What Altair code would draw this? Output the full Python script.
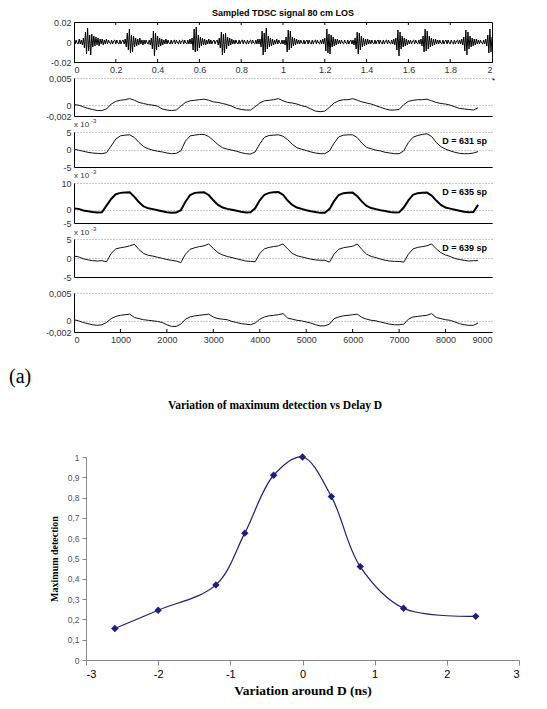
import altair as alt
import pandas as pd

# ---------------- data ----------------
# Sampled TDSC signal 80 cm LOS, units of 1e-3, one value every 0.005 from 0 to 2
tdsc_step = 0.005
tdsc_milli = [
    1, -2, 2, -1, -2, 3, -2, 2, -3, 4, -6, 10, -12, 14, -9, 7, -13, 8, -5, 6,
    -4, 5, -3, 4, -4, 3, -2, 3, -3, 2, -2, 3, -2, 2, -1, -2, 2, -2, 1, 2,
    -2, 2, -1, -2, 2, -2, 1, 2, -2, 3, -5, 9, -8, 13, -11, 7, -10, 6, -5, 4,
    -4, 3, -3, 4, -2, 2, -3, 2, -2, 2, -1, -2, 2, -3, 4, -7, 11, -14, 9, -8,
    6, -5, 4, -4, 3, -3, 2, -2, 3, -2, 2, -1, -2, 2, -2, 1, 2, -2, 2, -1,
    -2, 2, -2, 1, 2, -2, 2, -1, -2, 2, -2, 3, -2, 4, -8, 13, -10, 15, -9, 7,
    -6, 5, -4, 4, -3, 3, -3, 2, -2, 3, -2, 2, -2, 1, 2, -2, 1, 2, -3, 4,
    -6, 10, -13, 8, -11, 9, -7, 5, -4, 4, -3, 3, -2, 2, -2, 2, -1, -2, 2, -2,
    1, 2, -2, 2, -1, -2, 2, -2, 1, 2, -2, 2, -1, -2, 2, -2, 3, -2, 3, -5,
    11, -13, 9, -10, 14, -7, 6, -5, 4, -4, 3, -3, 2, -2, 3, -2, 2, -1, -2, 2,
    -2, 2, -3, 5, -10, 12, -8, 11, -6, 5, -4, 4, -3, 3, -2, 2, -2, 2, -1, -2,
    2, -2, 1, 2, -2, 2, -1, -2, 2, -2, 1, 2, -2, 2, -1, -2, 2, -2, 3, -2,
    4, -9, 13, -11, 8, -12, 7, -5, 5, -4, 3, -3, 3, -2, 2, -2, 2, -1, -2, 2,
    -1, -2, 2, -2, 1, 2, -2, 2, -3, 4, -7, 10, -12, 9, -8, 6, -5, 4, -4, 3,
    -3, 3, -2, 2, -2, 2, -1, -2, 2, -2, 1, 2, -2, 2, -1, -2, 2, -2, 1, 2,
    -2, 2, -1, -2, 2, -2, 3, -3, 4, -8, 12, -14, 10, -7, 6, -5, 4, -4, 3, -3,
    2, -2, 2, -2, 1, 2, -2, 2, -1, -2, 2, -2, 3, -4, 6, -10, 13, -9, 11, -7,
    6, -5, 4, -4, 3, -3, 3, -2, 2, -2, 2, -1, -2, 2, -2, 1, 2, -2, 2, -1,
    -2, 2, -1, -2, 2, -2, 1, 2, -2, 2, -2, 3, -3, 5, -9, 12, -13, 10, -7, 6,
    -5, 4, -4, 3, -3, 3, -2, 2, -2, 2, -1, -2, 2, -2, 3, -4, 7, -11, 13, -10,
    5,
]
tdsc_xticks = [0, 0.2, 0.4, 0.6, 0.8, 1, 1.2, 1.4, 1.6, 1.8, 2]

# correlation panels: one value every 100 samples, 0 .. 8700
sample_idx = list(range(0, 8800, 100))
corr_top_e4 = [  # units of 1e-4
    1, 0, -3, -6, -8, -10, -10, -7, 2, 7,
    9, 10, 12, 9, 5, 3, 1, 0, -2, -7,
    -9, -10, -9, -2, 5, 8, 9, 10, 11, 9,
    6, 5, 3, 1, -2, -6, -8, -9, -9, -3,
    4, 8, 9, 10, 12, 8, 5, 4, 2, -1,
    -3, -7, -11, -12, -11, -4, 4, 8, 10, 10,
    12, 9, 6, 4, 2, -1, -4, -7, -9, -9,
    -8, 1, 7, 9, 10, 10, 11, 8, 5, 3,
    2, 0, -3, -6, -7, -8, -9, -5,
]
d631_e3 = [
    0.1, -0.2, -0.5, -0.8, -1.0, -1.1, -1.2, -0.9, 1.0, 3.0,
    3.9, 4.1, 4.2, 3.4, 2.0, 0.8, 0.2, -0.2, -0.5, -0.7,
    -1.0, -1.2, -1.1, -0.4, 2.4, 3.9, 4.1, 4.3, 4.3, 3.7,
    2.6, 1.4, 0.5, 0.1, -0.2, -0.5, -0.9, -1.2, -1.3, -0.7,
    1.6, 3.5, 4.0, 4.1, 4.2, 3.8, 2.8, 1.5, 0.5, 0.1,
    -0.3, -0.7, -1.0, -1.2, -1.2, -0.4, 1.8, 3.6, 4.1, 4.2,
    4.2, 3.4, 1.8, 0.6, 0.2, -0.2, -0.4, -0.8, -1.0, -1.2,
    -1.2, -0.4, 2.0, 3.5, 4.0, 4.3, 4.5, 3.7, 2.0, 0.8,
    0.1, -0.4, -0.8, -1.1, -1.2, -1.2, -1.0, -0.6,
]
d635_e3 = [
    0.4, 0.3, -0.3, -0.6, -0.9, -1.1, -1.0, 1.5, 4.0, 5.8,
    6.3, 6.4, 6.5, 4.8, 2.8, 1.2, 0.5, 0.2, -0.2, -0.6,
    -1.0, -1.2, -1.1, -0.2, 3.0, 5.5, 6.3, 6.4, 6.5, 5.5,
    3.5, 1.8, 0.8, 0.3, 0.0, -0.4, -0.8, -1.1, -1.0, 0.5,
    3.5, 5.6, 6.3, 6.5, 6.6, 5.6, 3.4, 1.8, 0.8, 0.3,
    -0.2, -0.6, -0.9, -1.2, -1.2, 0.2, 3.2, 5.5, 6.2, 6.3,
    6.4, 5.0, 3.0, 1.4, 0.6, 0.2, -0.2, -0.5, -0.9, -1.1,
    -1.0, 0.8, 3.5, 5.6, 6.2, 6.3, 6.4, 5.3, 3.4, 1.8,
    0.8, 0.4, 0.0, -0.4, -0.8, -1.0, -0.9, 1.8,
]
d639_e3 = [
    0.5, 0.3, -0.2, -0.5, -0.7, -0.8, -0.7, -1.0, 1.2, 2.4,
    2.7, 2.9, 3.2, 3.6, 2.2, 1.2, 0.7, 0.5, 0.2, -0.1,
    -0.4, -0.6, -0.8, -1.2, 1.0, 2.3, 2.7, 3.0, 3.2, 3.7,
    2.5, 1.4, 0.8, 0.4, 0.1, -0.2, -0.5, -0.8, -0.9, -1.0,
    1.2, 2.4, 2.8, 3.0, 3.2, 3.7, 2.4, 1.2, 0.6, 0.3,
    0.0, -0.3, -0.5, -0.6, -0.6, -1.1, 1.0, 2.3, 2.7, 2.9,
    3.1, 3.7, 2.2, 1.0, 0.4, 0.1, -0.3, -0.6, -0.8, -0.9,
    -0.9, -1.1, 1.0, 2.4, 2.8, 3.0, 3.2, 3.7, 2.4, 1.4,
    0.8, 0.4, -0.1, -0.4, -0.6, -0.8, -0.7, -0.7,
]
corr_bot_e4 = [  # units of 1e-4
    2, 0, -3, -5, -7, -8, -7, -3, 4, 8,
    10, 11, 12, 6, 4, 2, 1, 0, -1, -3,
    -7, -10, -10, -6, 3, 7, 9, 10, 11, 12,
    7, 4, 3, 2, -1, -3, -5, -6, -7, -4,
    3, 7, 9, 10, 11, 13, 5, 3, 1, 0,
    -2, -4, -7, -9, -9, -6, 4, 7, 9, 10,
    11, 12, 6, 3, 1, 0, -2, -4, -6, -7,
    -7, -6, 3, 7, 8, 9, 10, 13, 6, 4,
    2, 1, -2, -5, -7, -8, -8, -4,
]
sample_xticks = [0, 1000, 2000, 3000, 4000, 5000, 6000, 7000, 8000, 9000]

# lower chart
delay_ns = [-2.6, -2.0, -1.2, -0.8, -0.4, 0.0, 0.4, 0.8, 1.4, 2.4]
max_detection = [0.155, 0.245, 0.37, 0.625, 0.91, 1.0, 0.805, 0.46, 0.255, 0.215]
delay_ticks = [-3, -2, -1, 0, 1, 2, 3]
detect_ticks = [0, 0.1, 0.2, 0.3, 0.4, 0.5, 0.6, 0.7, 0.8, 0.9, 1]

# ---------------- styling ----------------
FONT = "Liberation Sans"
SERIF = "Liberation Serif"
W = 418
NAVY = "#1f1f78"
H1, H2, H3, H4, H5, H6 = 40, 38, 35, 40, 38, 39
SP = 16
BOT_H, BOT_GAP = 203, 109
COMMA = "replace(toString(datum.value), '.', ',')"
PLAIN = "toString(datum.value)"


def yaxis(values, expr=PLAIN, grid=True):
    return alt.Axis(values=values, labelExpr=expr, title=None, ticks=False, grid=grid,
                    gridDash=[1, 2], gridColor="#7a7a7a", gridWidth=0.8,
                    domain=True, domainColor="black", domainWidth=1,
                    labelFont=FONT, labelFontSize=9, labelColor="#333", labelPadding=3)


xhidden = alt.Axis(labels=False, ticks=False, grid=False, title=None, domain=True,
                   domainColor="black", domainWidth=1)


def note(text, x, y, size=9, bold=False, align="left", font=FONT, color="black"):
    return alt.Chart(pd.DataFrame({"t": [text]})).mark_text(
        align=align, baseline="middle", fontSize=size,
        fontWeight="bold" if bold else "normal", font=font, color=color
    ).encode(text="t:N", x=alt.value(x), y=alt.value(y))


# ---- panel 1 ----
df1 = pd.DataFrame({"t": [i * tdsc_step for i in range(len(tdsc_milli))],
                    "v": [v / 1000 for v in tdsc_milli]})
x1 = alt.X("t:Q", scale=alt.Scale(domain=[0, 2], nice=False),
           axis=alt.Axis(values=tdsc_xticks, labelExpr=PLAIN, ticks=False, grid=False, title=None,
                         domain=True, domainColor="black", labelFont=FONT, labelFontSize=9,
                         labelColor="#333", labelPadding=3))
p1_line = alt.Chart(df1).mark_line(color="black", strokeWidth=1, clip=True).encode(
    x=x1,
    y=alt.Y("v:Q", scale=alt.Scale(domain=[-0.02, 0.02], nice=False),
            axis=yaxis([-0.02, 0, 0.02], grid=False)),
)
tick_df = pd.DataFrame({"t": tdsc_xticks[1:-1]})
p1_ttop = alt.Chart(tick_df).mark_rule(color="black").encode(x=x1, y=alt.value(0), y2=alt.value(3))
p1_tbot = alt.Chart(tick_df).mark_rule(color="black").encode(x=x1, y=alt.value(H1 - 3), y2=alt.value(H1))
p1 = alt.layer(p1_line, p1_ttop, p1_tbot).properties(
    width=W, height=H1,
    view=alt.ViewBackground(stroke="black", strokeWidth=1),
    title=alt.TitleParams("Sampled TDSC signal 80 cm LOS", font=FONT, fontSize=9,
                          fontWeight="bold", offset=0, color="black"),
)


def corr_panel(values, scale_div, ydom, yvals, expr, height, width_line=1, color="#111",
               xaxis=xhidden, extra=()):
    df = pd.DataFrame({"s": sample_idx, "v": [v / scale_div for v in values]})
    xenc = alt.X("s:Q", scale=alt.Scale(domain=[0, 9000], nice=False), axis=xaxis)
    line = alt.Chart(df).mark_line(color=color, strokeWidth=width_line).encode(
        x=xenc,
        y=alt.Y("v:Q", scale=alt.Scale(domain=ydom, nice=False), axis=yaxis(yvals, expr)),
    )
    return alt.layer(line, *extra).properties(width=W, height=height)


p2 = corr_panel(corr_top_e4, 10000, [-0.002, 0.005], [-0.002, 0, 0.005], COMMA, H2,
                extra=[note("*", W, 3, size=8)])

p3 = corr_panel(d631_e3, 1, [-5, 5], [-5, 0, 5], PLAIN, H3,
                extra=[note("x 10", 0, -7, size=8, color="#333"),
                       note("-3", 17, -11, size=6, color="#333"),
                       note("D = 631 sp", W - 5, 9, size=9, bold=True, align="right")])

p4 = corr_panel(d635_e3, 1, [-5, 10], [-5, 0, 10], PLAIN, H4, width_line=2, color="black",
                extra=[note("x 10", 0, -7, size=8, color="#333"),
                       note("-3", 17, -11, size=6, color="#333"),
                       note("D = 635 sp", W - 5, 9, size=9, bold=True, align="right")])

p5 = corr_panel(d639_e3, 1, [-5, 5], [-5, 0, 5], PLAIN, H5,
                extra=[note("x 10", 0, -6, size=8, color="#333"),
                       note("-3", 17, -10, size=6, color="#333"),
                       note("D = 639 sp", W - 5, 9, size=9, bold=True, align="right")])

x6axis = alt.Axis(values=sample_xticks, labelExpr=PLAIN, ticks=False, grid=False, title=None,
                  domain=True, domainColor="black", labelFont=FONT, labelFontSize=9,
                  labelColor="#333", labelPadding=3)
tick6 = alt.Chart(pd.DataFrame({"s": sample_xticks[1:-1]})).mark_rule(color="black").encode(
    x=alt.X("s:Q", scale=alt.Scale(domain=[0, 9000], nice=False), axis=x6axis),
    y=alt.value(H6 - 3), y2=alt.value(H6))
p6 = corr_panel(corr_bot_e4, 10000, [-0.002, 0.005], [-0.002, 0, 0.005], COMMA, H6,
                xaxis=x6axis,
                extra=[tick6, note("(a)", -65, 84, size=20, font=SERIF)])

# ---- lower chart (top gap is kept inside its own area) ----
BH = BOT_H + BOT_GAP
dfb = pd.DataFrame({"d": delay_ns, "m": max_detection})
xb = alt.X("d:Q", scale=alt.Scale(domain=[-3, 3], range=[12, 445], nice=False, zero=False),
           axis=alt.Axis(values=delay_ticks, labelExpr=PLAIN, title="Variation around D (ns)",
                         titleFont=SERIF, titleFontSize=13.5, titleFontWeight="bold",
                         titleColor="black", titlePadding=4,
                         labelFont=FONT, labelFontSize=11, labelColor="black", labelPadding=3,
                         tickColor="#888", tickSize=5, domainColor="#888", grid=False))
yb = alt.Y("m:Q", scale=alt.Scale(domain=[0, 1], range=[BH, BOT_GAP], nice=False),
           axis=alt.Axis(values=detect_ticks, labelExpr=COMMA, offset=-12,
                         title="Maximum detection", titleFont=SERIF, titleFontSize=10,
                         titleFontWeight="bold", titleColor="black", titlePadding=8,
                         labelFont=FONT, labelFontSize=8.5, labelColor="#555", labelPadding=3,
                         tickColor="#888", tickSize=4, domainColor="#888", grid=False))
base = alt.Chart(dfb).encode(x=xb, y=yb)
curve = base.mark_line(interpolate="catmull-rom", color=NAVY, strokeWidth=1.2)
pts = base.mark_point(shape="diamond", filled=True, size=55, color=NAVY, opacity=1)
btitle = note("Variation of maximum detection vs Delay D", 201, 58, size=11.5, bold=True,
              align="center", font=SERIF)
bottom = alt.layer(curve, pts, btitle).properties(width=445, height=BH)

chart = alt.vconcat(p1, p2, p3, p4, p5, p6, bottom, spacing=SP, bounds="flush").properties(
    padding={"left": 0, "top": 0, "right": 4, "bottom": 4}
).configure_view(stroke="transparent")

chart.save("out.html", embed_options={"renderer": "svg", "actions": False})
